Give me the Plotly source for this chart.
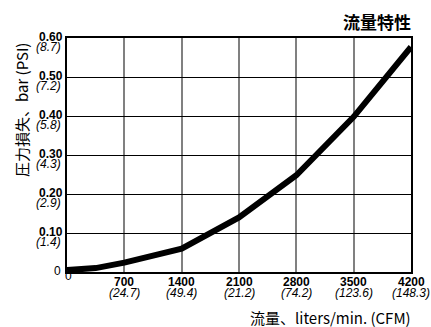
import plotly.graph_objects as go

flow = [0, 350, 700, 1400, 2100, 2800, 3500, 4200]
pressure = [0.005, 0.010, 0.024, 0.060, 0.140, 0.248, 0.398, 0.577]

x_ticks = [0, 700, 1400, 2100, 2800, 3500, 4200]
x_cfm = ["", "(24.7)", "(49.4)", "(21.2)", "(74.2)", "(123.6)", "(148.3)"]
y_ticks = [0, 0.1, 0.2, 0.3, 0.4, 0.5, 0.6]
y_psi = ["", "(1.4)", "(2.9)", "(4.3)", "(5.8)", "(7.2)", "(8.7)"]

LAT = "Liberation Sans, Arial, sans-serif"
CJK = "Noto Sans CJK JP, Liberation Sans, sans-serif"

fig = go.Figure()
fig.add_trace(go.Scatter(x=flow, y=pressure, mode="lines",
                         line=dict(color="black", width=6), hoverinfo="skip"))

ann = []
tf = dict(family=LAT, size=12, color="black")
# x tick labels
for v, c in zip(x_ticks, x_cfm):
    if v == 0:
        ann.append(dict(text="0", x=v, y=0, xref="x", yref="paper",
                        xanchor="center", yanchor="middle", yshift=-4, xshift=1,
                        showarrow=False, font=dict(family=LAT, size=12)))
        continue
    ann.append(dict(text=f"<b>{v}</b>", x=v, y=0, xref="x", yref="paper",
                    xanchor="center", yanchor="middle", yshift=-10,
                    showarrow=False, font=tf))
    ann.append(dict(text=f"<i>{c}</i>", x=v, y=0, xref="x", yref="paper",
                    xanchor="center", yanchor="middle", yshift=-21,
                    showarrow=False, font=tf))
# y tick labels
for v, c in zip(y_ticks, y_psi):
    if v == 0:
        ann.append(dict(text="0", x=0, y=v, xref="paper", yref="y",
                        xanchor="right", yanchor="middle", xshift=-4, yshift=1,
                        showarrow=False, font=dict(family=LAT, size=12)))
        continue
    ann.append(dict(text=f"<b>{v:.2f}</b>", x=0, y=v, xref="paper", yref="y",
                    xanchor="right", yanchor="middle", xshift=-2, yshift=1,
                    showarrow=False, font=tf))
    ann.append(dict(text=f"<i>{c}</i>", x=0, y=v, xref="paper", yref="y",
                    xanchor="right", yanchor="middle", xshift=-4, yshift=-9,
                    showarrow=False, font=tf))

ann += [
    dict(text="<b>流量特性</b>", x=1, y=1, xref="paper", yref="paper",
         xanchor="right", yanchor="middle", yshift=17, xshift=2, showarrow=False,
         font=dict(family=CJK, size=17, color="black")),
    dict(text="流量、liters/min. (CFM)", x=1, y=0, xref="paper", yref="paper",
         xanchor="right", yanchor="middle", yshift=-45, xshift=2, showarrow=False,
         font=dict(family=CJK, size=15, color="black")),
    dict(text="圧力損失、bar (PSI)", x=0, y=0.692, xref="paper", yref="paper",
         xanchor="center", yanchor="middle", xshift=-46, textangle=-90,
         showarrow=False, font=dict(family=CJK, size=15, color="black")),
]

fig.update_layout(
    width=431, height=327,
    margin=dict(l=67, r=20, t=38, b=55),
    paper_bgcolor="white", plot_bgcolor="white",
    showlegend=False,
    font=dict(family=LAT, size=12, color="black"),
    xaxis=dict(range=[0, 4200], tickvals=x_ticks, showticklabels=False,
               showgrid=True, gridcolor="#808080", gridwidth=1.5,
               showline=True, linecolor="black", linewidth=2, mirror=True,
               ticks="", zeroline=False),
    yaxis=dict(range=[0, 0.6], tickvals=y_ticks, showticklabels=False,
               showgrid=True, gridcolor="black", gridwidth=1,
               showline=True, linecolor="black", linewidth=2, mirror=True,
               ticks="", zeroline=False),
    annotations=ann,
)

fig.write_html("out.html", config={"displayModeBar": False},
               post_script="document.body.style.margin='0';document.body.style.overflow='hidden';")
